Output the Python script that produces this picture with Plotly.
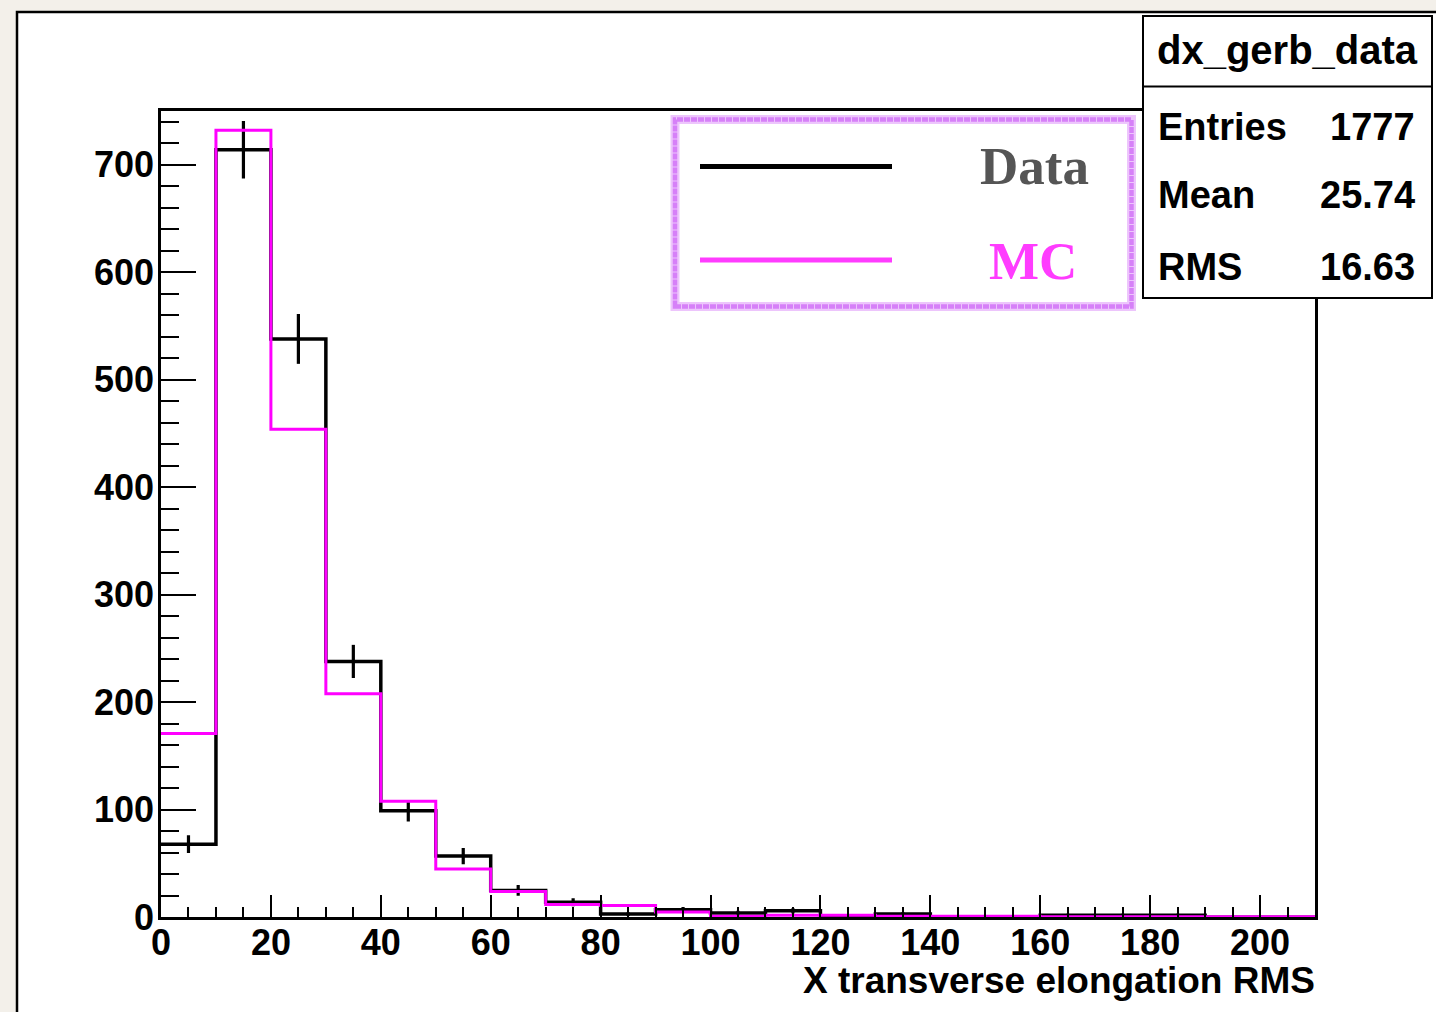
import numpy as np
import plotly.graph_objects as go

# ---------------- data ----------------
bin_edges = [0, 10, 20, 30, 40, 50, 60, 70, 80, 90, 100, 110, 120, 130, 140,
             150, 160, 170, 180, 190, 200, 210]
data_counts = [68, 714, 538, 238, 99, 57, 25, 14, 3, 7, 4, 6, 1, 3, 0, 0, 2, 2, 2, 0, 0]
mc_counts = [171, 732, 454, 208, 108, 45, 24, 12, 11, 5, 1, 2, 2, 1, 1, 1, 0.4, 0.4, 0.4, 0.5, 0.5]

x_tick_vals = [0, 20, 40, 60, 80, 100, 120, 140, 160, 180, 200]
y_tick_vals = [0, 100, 200, 300, 400, 500, 600, 700]

x_title = "X transverse elongation RMS"
stats_title = "dx_gerb_data"
stats_labels = ["Entries", "Mean", "RMS"]
stats_values = ["1777", "25.74", "16.63"]
legend_labels = ["Data", "MC"]

# ---------------- geometry helpers ----------------
W, H = 1436, 1012


def px(x):
    return x / W


def py(y):
    return 1 - y / H


edges = np.array(bin_edges, dtype=float)
centers = (edges[:-1] + edges[1:]) / 2
data_arr = np.array(data_counts, dtype=float)
mc_arr = np.array(mc_counts, dtype=float)

fig = go.Figure()

# data histogram outline
fig.add_trace(go.Scatter(
    x=edges, y=np.append(data_arr, data_arr[-1]),
    mode="lines", line=dict(color="black", width=3.5, shape="hv"),
    showlegend=False, hoverinfo="skip"))

# data error bars (Poisson)
fig.add_trace(go.Scatter(
    x=centers, y=data_arr, mode="markers",
    marker=dict(size=1, color="black"),
    error_y=dict(type="data", array=np.sqrt(data_arr), visible=True,
                 color="black", thickness=3.2, width=0),
    showlegend=False, hoverinfo="skip"))

# MC histogram outline
fig.add_trace(go.Scatter(
    x=edges, y=np.append(mc_arr, mc_arr[-1]),
    mode="lines", line=dict(color="#ff00ff", width=3, shape="hv"),
    showlegend=False, hoverinfo="skip"))

tickfont = dict(family="Liberation Sans, Arial, sans-serif", size=36, color="black", weight="bold")

fig.update_xaxes(
    domain=[px(161), px(1315)], range=[0, 210], automargin=False,
    showline=True, linecolor="black", linewidth=2.5, mirror=True,
    ticks="inside", ticklen=23, tickwidth=2, tickcolor="black",
    tickvals=x_tick_vals, ticktext=[str(v) for v in x_tick_vals],
    minor=dict(ticks="inside", ticklen=11, tickwidth=2, tickcolor="black", dtick=5, tick0=0, showgrid=False),
    showgrid=False, zeroline=False, tickfont=tickfont, ticklabelstandoff=-8)

fig.update_yaxes(
    domain=[py(917.3), py(111)], range=[0, 750], automargin=False,
    showline=True, linecolor="black", linewidth=2.5, mirror=True,
    ticks="inside", ticklen=35, tickwidth=2, tickcolor="black",
    tickvals=y_tick_vals, ticktext=[str(v) for v in y_tick_vals],
    minor=dict(ticks="inside", ticklen=18, tickwidth=2, tickcolor="black", dtick=20, tick0=0, showgrid=False),
    showgrid=False, zeroline=False, tickfont=tickfont, ticklabelstandoff=-3)

shapes = []
# white pad with black border (extends beyond the page at right/bottom)
shapes.append(dict(type="rect", xref="paper", yref="paper",
                   x0=px(17), x1=px(1460), y0=py(1040), y1=py(12),
                   line=dict(color="black", width=2.5), fillcolor="white", layer="below"))

# legend box (fuzzy violet border)
shapes.append(dict(type="rect", xref="paper", yref="paper",
                   x0=px(675), x1=px(1131.5), y0=py(306.5), y1=py(119.5),
                   line=dict(color="rgba(222,150,250,0.55)", width=9), fillcolor="white", layer="above"))
shapes.append(dict(type="rect", xref="paper", yref="paper",
                   x0=px(675), x1=px(1131.5), y0=py(306.5), y1=py(119.5),
                   line=dict(color="rgba(214,128,248,1)", width=4.5, dash="6px,1px"),
                   fillcolor="rgba(0,0,0,0)", layer="above"))
shapes.append(dict(type="line", xref="paper", yref="paper",
                   x0=px(700), x1=px(892), y0=py(166.5), y1=py(166.5),
                   line=dict(color="black", width=5), layer="above"))
shapes.append(dict(type="line", xref="paper", yref="paper",
                   x0=px(700), x1=px(892), y0=py(260), y1=py(260),
                   line=dict(color="#ff3cff", width=5), layer="above"))

# stats box
shapes.append(dict(type="rect", xref="paper", yref="paper",
                   x0=px(1143), x1=px(1432), y0=py(298), y1=py(16),
                   line=dict(color="black", width=2), fillcolor="white", layer="above"))
shapes.append(dict(type="line", xref="paper", yref="paper",
                   x0=px(1143), x1=px(1432), y0=py(86.5), y1=py(86.5),
                   line=dict(color="black", width=2), layer="above"))

annotations = []
sans_b = "Liberation Sans, Arial, sans-serif"
serif_b = "Liberation Serif, Times New Roman, serif"

annotations.append(dict(text=x_title, xref="paper", yref="paper",
                        x=px(1317), y=py(980), xanchor="right", yanchor="middle",
                        showarrow=False, font=dict(family=sans_b, size=37, color="black", weight="bold")))

annotations.append(dict(text=stats_title, xref="paper", yref="paper",
                        x=px(1287), y=py(50), xanchor="center", yanchor="middle",
                        showarrow=False, font=dict(family=sans_b, size=40, color="black", weight="bold")))
stat_y = [127, 195, 267]
for lab, val, yy in zip(stats_labels, stats_values, stat_y):
    annotations.append(dict(text=lab, xref="paper", yref="paper",
                            x=px(1156), y=py(yy), xanchor="left", yanchor="middle",
                            showarrow=False, font=dict(family=sans_b, size=38, color="black", weight="bold")))
    annotations.append(dict(text=val, xref="paper", yref="paper",
                            x=px(1417), y=py(yy), xanchor="right", yanchor="middle",
                            showarrow=False, font=dict(family=sans_b, size=38, color="black", weight="bold")))

annotations.append(dict(text=legend_labels[0], xref="paper", yref="paper",
                        x=px(1034), y=py(166), xanchor="center", yanchor="middle",
                        showarrow=False, font=dict(family=serif_b, size=53, color="#555555", weight="bold")))
annotations.append(dict(text=legend_labels[1], xref="paper", yref="paper",
                        x=px(1033), y=py(261), xanchor="center", yanchor="middle",
                        showarrow=False, font=dict(family=serif_b, size=53, color="#ff3cff", weight="bold")))

fig.update_layout(
    template="none",
    width=W, height=H, autosize=False,
    margin=dict(l=0, r=0, t=0, b=0, pad=0),
    paper_bgcolor="#f3f0ea", plot_bgcolor="white",
    shapes=shapes, annotations=annotations, showlegend=False)

fig.write_html("out.html", config={"displayModeBar": False},
               post_script="document.body.style.margin='0';document.body.style.overflow='hidden';")
